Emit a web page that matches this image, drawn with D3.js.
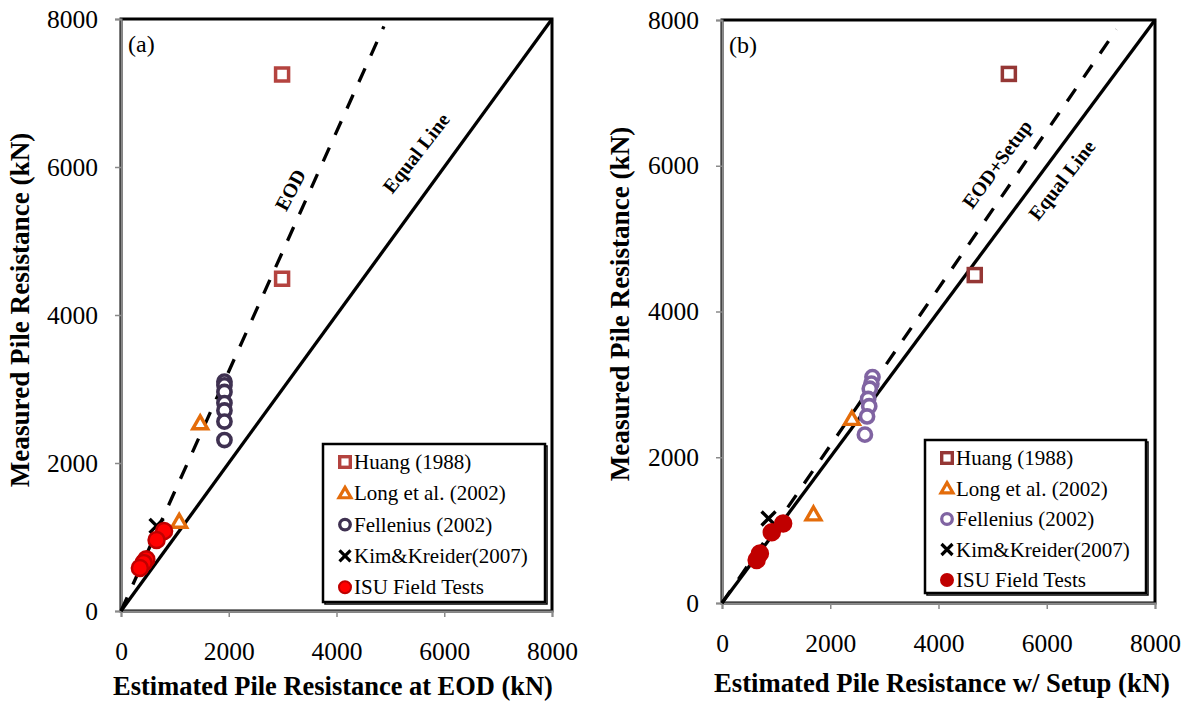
<!DOCTYPE html>
<html><head><meta charset="utf-8">
<script src="https://cdn.jsdelivr.net/npm/d3@7"></script>
<style>
body{margin:0;background:#fff;}
</style></head>
<body><svg id="c" width="1191" height="704"></svg>
<script>
// ---- data ----
const axisTicks = [0, 2000, 4000, 6000, 8000];
const seriesNames = ["Huang (1988)", "Long et al. (2002)", "Fellenius (2002)", "Kim&Kreider(2007)", "ISU Field Tests"];

// Panel (a): Estimated at EOD vs measured
const huangA = [[2990, 7250], [2990, 4490]];
const longA = [[1470, 2520], [1080, 1190]];
const felleniusA = [[1920, 3100], [1920, 3050], [1920, 2960], [1920, 2810], [1920, 2710], [1920, 2560], [1920, 2310]];
const kimA = [[660, 1150]];
const isuA = [[800, 1080], [660, 960], [470, 700], [420, 650], [350, 580]];
const eodLineA = [[0, 0], [4880, 7900]];
const equalLine = [[0, 0], [8000, 8000]];

// Panel (b): Estimated with setup vs measured
const huangB = [[5300, 7260], [4670, 4500]];
const longB = [[2400, 2510], [1690, 1200]];
const felleniusB = [[2780, 3100], [2760, 3010], [2730, 2940], [2700, 2800], [2720, 2700], [2680, 2560], [2640, 2310]];
const kimB = [[860, 1160]];
const isuB = [[1130, 1090], [920, 970], [700, 680], [640, 590]];
const eodLineB = [[0, 0], [7290, 7870]];

const FONT = "'Liberation Serif','Times New Roman',serif";
const svg = d3.select("#c");

function fitWidth(sel, fs, target) {
  const len = sel.node().getComputedTextLength();
  sel.attr("font-size", fs * target / len);
}

function panel(cfg) {
  const x = d3.scaleLinear().domain([0, 8000]).range([cfg.x0, cfg.x1]);
  const y = d3.scaleLinear().domain([0, 8000]).range([cfg.y0, cfg.y1]);
  const g = svg.append("g");

  g.append("rect").attr("x", cfg.x0).attr("y", cfg.y1)
    .attr("width", cfg.x1 - cfg.x0).attr("height", cfg.y0 - cfg.y1)
    .attr("fill", "none").attr("stroke", "#000").attr("stroke-width", 3);

  const xa = g.append("g").attr("transform", `translate(0,${cfg.y0})`)
    .call(d3.axisBottom(x).tickValues(axisTicks).tickSize(6).tickFormat(d3.format("d")));
  const ya = g.append("g").attr("transform", `translate(${cfg.x0},0)`)
    .call(d3.axisLeft(y).tickValues(axisTicks).tickSize(6).tickPadding(17).tickFormat(d3.format("d")));
  [xa, ya].forEach(a => {
    a.attr("font-family", null);
    a.select(".domain").attr("stroke", "#8a8a8a").attr("stroke-width", 2);
    a.selectAll(".tick line").attr("stroke", "#8a8a8a").attr("stroke-width", 1.5);
    a.selectAll(".tick text").attr("font-size", 25.5).attr("fill", "#000").style("font-family", FONT);
  });
  xa.selectAll(".tick text").attr("y", 49).attr("dy", 0);

  const line = d3.line().x(d => x(d[0])).y(d => y(d[1]));
  g.append("path").datum(equalLine).attr("d", line).attr("stroke", "#000")
    .attr("stroke-width", 3.3).attr("fill", "none");
  g.append("path").datum(cfg.fit).attr("d", line).attr("stroke", "#000")
    .attr("stroke-width", 3.3).attr("fill", "none").attr("stroke-dasharray", "15,14");

  cfg.labels.forEach(l => {
    g.append("text").attr("transform", `translate(${x(l.at[0])},${y(l.at[1])}) rotate(${l.angle})`)
      .attr("text-anchor", "middle").attr("dy", "0.35em").attr("font-size", 20).attr("font-weight", "bold")
      .style("font-family", FONT).text(l.text);
  });

  g.append("text").attr("x", cfg.x0 + 7).attr("y", cfg.y1 + 33).attr("font-size", 24)
    .style("font-family", FONT).text(cfg.tag);

  const c = cfg.colors;
  const mg = g.append("g");
  mg.append("g").selectAll(null).data(cfg.huang).enter().append("rect")
    .attr("x", d => x(d[0]) - 6.5).attr("y", d => y(d[1]) - 6.5).attr("width", 13).attr("height", 13)
    .attr("fill", "#fff").attr("stroke", c.huang).attr("stroke-width", 3.5);
  mg.append("g").selectAll(null).data(cfg.long).enter().append("path")
    .attr("d", d3.symbol(d3.symbolTriangle, 95)).attr("transform", d => `translate(${x(d[0])},${y(d[1])})`)
    .attr("fill", "#fff").attr("stroke", c.long).attr("stroke-width", 3.4);
  mg.append("g").selectAll(null).data(cfg.fell).enter().append("circle")
    .attr("cx", d => x(d[0])).attr("cy", d => y(d[1])).attr("r", 6.6)
    .attr("fill", "#fff").attr("stroke", c.fell).attr("stroke-width", 3.6);
  mg.append("g").selectAll(null).data(cfg.kim).enter().append("path")
    .attr("d", "M-7,-7L7,7M-7,7L7,-7").attr("transform", d => `translate(${x(d[0])},${y(d[1])})`)
    .attr("stroke", "#000").attr("stroke-width", 3.4).attr("fill", "none");
  mg.append("g").selectAll(null).data(cfg.isu).enter().append("circle")
    .attr("cx", d => x(d[0])).attr("cy", d => y(d[1])).attr("r", 8)
    .attr("fill", c.isuFill).attr("stroke", c.isu).attr("stroke-width", 2.5);

  const xt = g.append("text").attr("x", cfg.xtX).attr("y", cfg.xtY)
    .attr("text-anchor", "middle").attr("font-size", 24).attr("font-weight", "bold")
    .style("font-family", FONT).text(cfg.xtitle);
  fitWidth(xt, 24, cfg.xtW);
  const yt = g.append("text").attr("transform", `translate(${cfg.ytX},${cfg.ytY}) rotate(-90)`)
    .attr("text-anchor", "middle").attr("font-size", 24).attr("font-weight", "bold")
    .style("font-family", FONT).text("Measured Pile Resistance (kN)");
  fitWidth(yt, 24, 355);

  const L = cfg.legend;
  g.append("rect").attr("x", L.x + 2).attr("y", L.y + 2).attr("width", L.w).attr("height", L.h)
    .attr("fill", "none").attr("stroke", "#000").attr("stroke-width", 1.5);
  g.append("rect").attr("x", L.x).attr("y", L.y).attr("width", L.w).attr("height", L.h)
    .attr("fill", "#fff").attr("stroke", "#000").attr("stroke-width", 2.5);
  seriesNames.forEach((name, i) => {
    const cy = L.y + 18 + i * L.step, cx = L.x + 22;
    const lg = g.append("g").attr("transform", `translate(${cx},${cy})`);
    if (i === 0) lg.append("rect").attr("x", -5.3).attr("y", -5.3).attr("width", 10.6).attr("height", 10.6)
      .attr("fill", "#fff").attr("stroke", c.huang).attr("stroke-width", 3.4);
    if (i === 1) lg.append("path").attr("d", d3.symbol(d3.symbolTriangle, 62)).attr("transform", "translate(0,1)")
      .attr("fill", "#fff").attr("stroke", c.long).attr("stroke-width", 3.2);
    if (i === 2) lg.append("circle").attr("r", 5.3).attr("fill", "#fff").attr("stroke", c.fell).attr("stroke-width", 3.3);
    if (i === 3) lg.append("path").attr("d", "M-5.5,-5.5L5.5,5.5M-5.5,5.5L5.5,-5.5").attr("stroke", "#000").attr("stroke-width", 3.2);
    if (i === 4) lg.append("circle").attr("r", 6).attr("fill", c.isuFill).attr("stroke", c.isu).attr("stroke-width", 2);
    g.append("text").attr("x", cx + 9).attr("y", cy + 7).attr("font-size", 21)
      .style("font-family", FONT).text(name);
  });
}

panel({
  x0: 121, x1: 552, y0: 611, y1: 19, tag: "(a)",
  huang: huangA, long: longA, fell: felleniusA, kim: kimA, isu: isuA, fit: eodLineA,
  colors: { huang: "#b4433f", long: "#e46c0a", fell: "#3f3151", isu: "#c00000", isuFill: "#ff0000" },
  labels: [{ text: "EOD", angle: -62, at: [3140, 5690] }, { text: "Equal Line", angle: -52, at: [5476, 6190] }],
  xtitle: "Estimated Pile Resistance at EOD (kN)", xtX: 333, xtY: 695, xtW: 440, ytX: 29, ytY: 310,
  legend: { x: 323, y: 444, w: 222, h: 158, step: 31.3 }
});
panel({
  x0: 722, x1: 1155, y0: 603, y1: 20, tag: "(b)",
  huang: huangB, long: longB, fell: felleniusB, kim: kimB, isu: isuB, fit: eodLineB,
  colors: { huang: "#953735", long: "#e46c0a", fell: "#8064a2", isu: "#c00000", isuFill: "#c00000" },
  labels: [{ text: "EOD+Setup", angle: -54, at: [5080, 6024] }, { text: "Equal Line", angle: -52, at: [6276, 5805] }],
  xtitle: "Estimated Pile Resistance w/ Setup (kN)", xtX: 942, xtY: 692, xtW: 456, ytX: 629, ytY: 304,
  legend: { x: 925, y: 440, w: 221, h: 153, step: 30.5 }
});
</script></body></html>
